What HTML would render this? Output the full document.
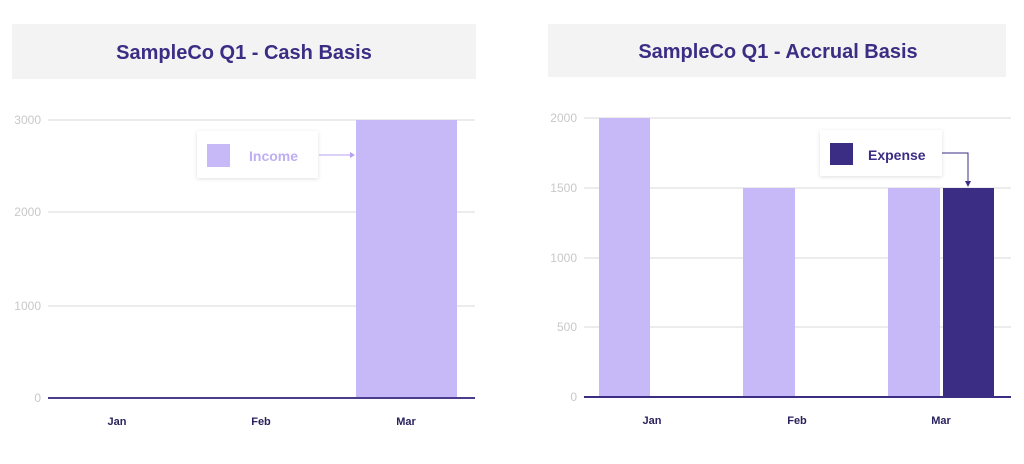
<!DOCTYPE html>
<html><head><style>
body{margin:0;background:#fff;width:1024px;height:459px;overflow:hidden;font-family:"Liberation Sans",sans-serif}
</style></head><body>
<svg width="1024" height="459" xmlns="http://www.w3.org/2000/svg" font-family="Liberation Sans, sans-serif">
<defs><filter id="sh" x="-20%" y="-30%" width="140%" height="160%"><feDropShadow dx="0" dy="1" stdDeviation="2" flood-color="#000" flood-opacity="0.12"/></filter></defs>
<!-- Left -->
<rect x="12" y="24" width="464" height="55" fill="#f3f3f3"/>
<text x="244" y="59" text-anchor="middle" font-size="20" font-weight="bold" fill="#3b2d84">SampleCo Q1 - Cash Basis</text>
<g stroke="#e6e6e6" stroke-width="1.5">
<line x1="48" y1="120" x2="475" y2="120"/><line x1="48" y1="212" x2="475" y2="212"/><line x1="48" y1="306" x2="475" y2="306"/>
</g>
<g fill="#c8c8c8" font-size="12" text-anchor="end">
<text x="41" y="124">3000</text><text x="41" y="216">2000</text><text x="41" y="310">1000</text><text x="41" y="402">0</text>
</g>
<rect x="356" y="120" width="101" height="278" fill="#c7b8f8"/>
<line x1="48" y1="398" x2="475" y2="398" stroke="#4b3d8c" stroke-width="2"/>
<g fill="#2a225e" font-size="11" font-weight="bold" text-anchor="middle">
<text x="117" y="425">Jan</text><text x="261" y="425">Feb</text><text x="406" y="425">Mar</text>
</g>
<rect x="197" y="131" width="121" height="47" fill="#fff" filter="url(#sh)"/>
<rect x="207" y="144" width="23" height="23" fill="#c7b8f8"/>
<text x="249" y="161" font-size="14" font-weight="bold" fill="#c0aef5">Income</text>
<line x1="319" y1="155" x2="352" y2="155" stroke="#b6a2f0" stroke-width="1"/>
<path d="M350 152 L355 155 L350 158Z" fill="#b6a2f0"/>
<!-- Right -->
<rect x="548" y="24" width="458" height="53" fill="#f3f3f3"/>
<text x="778" y="58" text-anchor="middle" font-size="20" font-weight="bold" fill="#3b2d84">SampleCo Q1 - Accrual Basis</text>
<g stroke="#e6e6e6" stroke-width="1.5">
<line x1="584" y1="118" x2="1011" y2="118"/><line x1="584" y1="188" x2="1011" y2="188"/><line x1="584" y1="258" x2="1011" y2="258"/><line x1="584" y1="327" x2="1011" y2="327"/>
</g>
<g fill="#c8c8c8" font-size="12" text-anchor="end">
<text x="577" y="122">2000</text><text x="577" y="192">1500</text><text x="577" y="262">1000</text><text x="577" y="331">500</text><text x="577" y="401">0</text>
</g>
<rect x="599" y="118" width="51" height="279" fill="#c7b8f8"/>
<rect x="743" y="188" width="52" height="209" fill="#c7b8f8"/>
<rect x="888" y="188" width="52" height="209" fill="#c7b8f8"/>
<rect x="943" y="188" width="51" height="209" fill="#3b2d84"/>
<line x1="584" y1="397" x2="1011" y2="397" stroke="#3b2d84" stroke-width="2"/>
<g fill="#2a225e" font-size="11" font-weight="bold" text-anchor="middle">
<text x="652" y="424">Jan</text><text x="797" y="424">Feb</text><text x="941" y="424">Mar</text>
</g>
<rect x="820" y="130" width="122" height="46" fill="#fff" filter="url(#sh)"/>
<rect x="830" y="143" width="23" height="22" fill="#3b2d84"/>
<text x="868" y="160" font-size="14" font-weight="bold" fill="#3b2d84">Expense</text>
<path d="M942 153 H968 V182" fill="none" stroke="#3b2d84" stroke-width="1"/>
<path d="M965 181 L968 187 L971 181Z" fill="#3b2d84"/>
</svg>
</body></html>
